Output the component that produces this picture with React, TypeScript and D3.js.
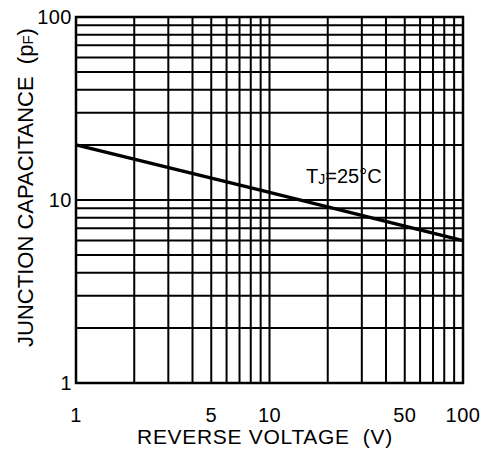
import React from "react";
import * as d3 from "d3";

// data
const voltage = [1, 10, 100];
const capacitance = [20, 11, 6];

const xGrid = [1, 2, 3, 4, 5, 6, 7, 8, 9, 10, 20, 30, 40, 50, 60, 70, 80, 90, 100];
const yGrid = [1, 2, 3, 4, 5, 6, 7, 8, 9, 10, 20, 30, 40, 50, 60, 70, 80, 90, 100];
const xTicks = [1, 5, 10, 50, 100];
const yTicks = [1, 10, 100];

const W = 491;
const H = 450;
const m = { left: 76, right: 28, top: 17, bottom: 67 };
const FONT = "'Liberation Sans', Arial, Helvetica, sans-serif";

export default function App() {
  const x = d3.scaleLog().domain([1, 100]).range([m.left, W - m.right]);
  const y = d3.scaleLog().domain([1, 100]).range([H - m.bottom, m.top]);

  const pts = voltage.map((v, i) => [v, capacitance[i]] as [number, number]);
  const line = d3
    .line<[number, number]>()
    .x((d) => x(d[0]))
    .y((d) => y(d[1]));

  const x0 = x(1), x1 = x(100), y0 = y(1), y1 = y(100);

  return (
    <svg
      width={W}
      height={H}
      style={{ position: "absolute", left: 0, top: 0, background: "#fff" }}
      fontFamily={FONT}
    >
      {/* grid */}
      <g stroke="#000" strokeWidth={2}>
        {xGrid.map((v) => (
          <line key={"gx" + v} x1={x(v)} x2={x(v)} y1={y0} y2={y1} />
        ))}
        {yGrid.map((v) => (
          <line key={"gy" + v} x1={x0} x2={x1} y1={y(v)} y2={y(v)} />
        ))}
      </g>
      <rect
        x={x0}
        y={y1}
        width={x1 - x0}
        height={y0 - y1}
        fill="none"
        stroke="#000"
        strokeWidth={2.5}
      />

      {/* curve */}
      <path d={line(pts) || ""} fill="none" stroke="#000" strokeWidth={3.5} />

      {/* y tick labels */}
      {yTicks.map((v) => (
        <text key={"yt" + v} x={x0 - 4} y={y(v) + 7} fontSize={20} textAnchor="end" fill="#000" letterSpacing={0.5}>
          {v}
        </text>
      ))}

      {/* x tick labels */}
      {xTicks.map((v) => (
        <text key={"xt" + v} x={x(v)} y={422} fontSize={20} textAnchor="middle" fill="#000" letterSpacing={0.5}>
          {v}
        </text>
      ))}

      {/* annotation */}
      <text x={306} y={183} fontSize={20} fill="#000">
        T
        <tspan fontSize={14} dy={1}>J</tspan>
        <tspan dy={-1}>=25°C</tspan>
      </text>

      {/* axis titles */}
      <text x={265} y={444} fontSize={21} textAnchor="middle" fill="#000" xmlSpace="preserve" letterSpacing={0.7}>
        REVERSE VOLTAGE  (V)
      </text>
      <text
        transform={`translate(33, ${(23 + 352) / 2}) rotate(-90)`}
        fontSize={22}
        textAnchor="middle"
        fill="#000"
        xmlSpace="preserve"
      >
        JUNCTION CAPACITANCE  (p<tspan fontSize={15}>F</tspan>)
      </text>
    </svg>
  );
}
